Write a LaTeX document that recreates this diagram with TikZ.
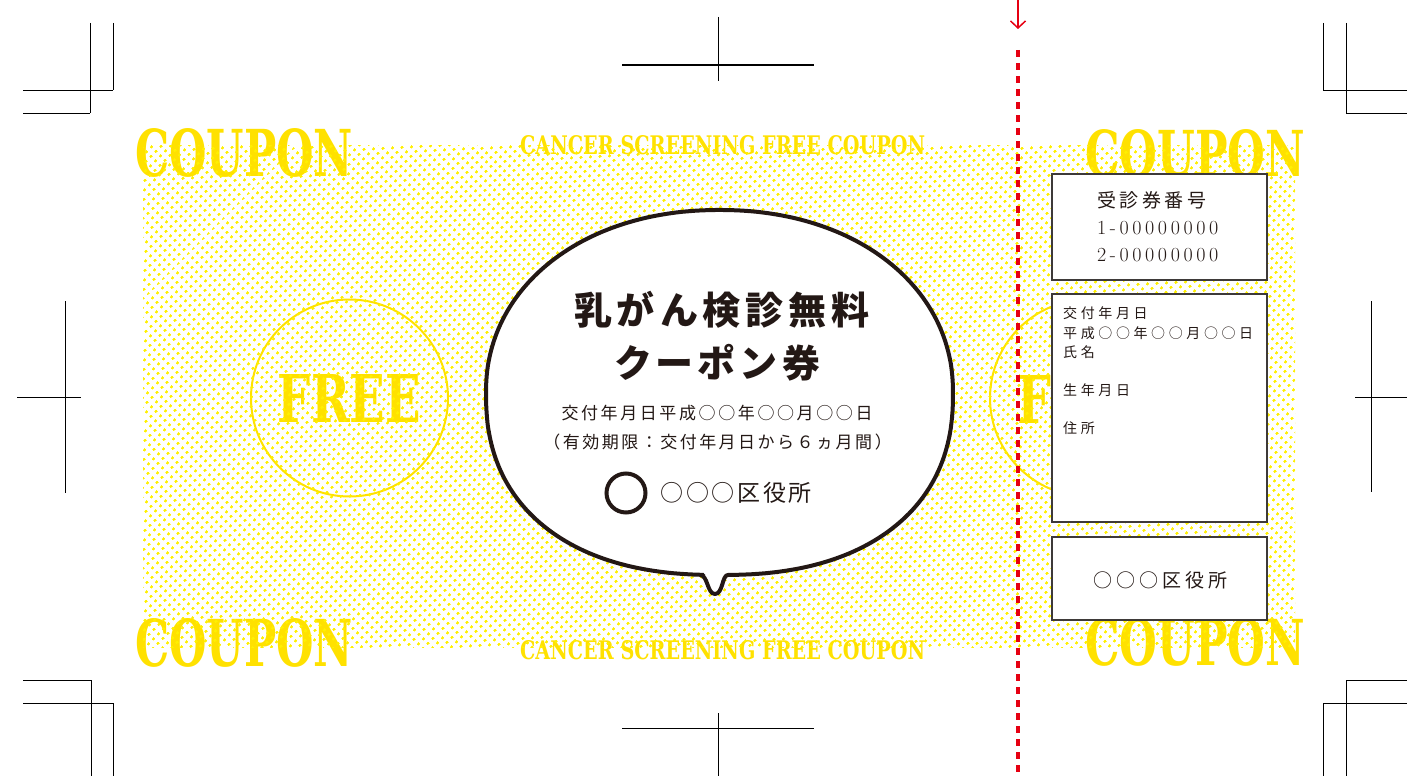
\documentclass[tikz,border=0pt]{standalone}
\usepackage{fontspec}
\usetikzlibrary{positioning, arrows.meta, patterns.meta}
\newfontfamily\cjk{Noto Sans CJK JP}
\newfontfamily\slab{DejaVu Serif}

\definecolor{dotyellow}{HTML}{FFF000}
\definecolor{couponyellow}{HTML}{FFE100}
\definecolor{inkblack}{HTML}{231815}
\definecolor{boxgray}{HTML}{3E3A39}
\definecolor{cutred}{HTML}{E60012}

\makeatletter
\newcommand\spread[2]{\def\spreadgap{#1}\@tfor\spreadchar:=#2\do{\spreadchar\hspace{\spreadgap}}\unskip}
\makeatother

\tikzstyle{coupontext} = [inner sep=0pt, text=couponyellow]
\tikzstyle{freering} = [circle, draw=couponyellow, line width=2pt, inner sep=0pt, minimum size=197pt, text=couponyellow]
\tikzstyle{bubble} = [draw=inkblack, fill=white, line width=4pt, line join=round]
\tikzstyle{bubbletext} = [inner sep=0pt, text=inkblack]
\tikzstyle{infobox} = [rectangle, draw=boxgray, fill=white, line width=2pt, minimum width=215pt, inner sep=0pt]
\tikzstyle{boxtext} = [inner sep=0pt, text=inkblack, anchor=west]
\tikzstyle{cutline} = [cutred, line width=3.5pt, dash pattern=on 7pt off 6pt]
\tikzstyle{cutarrow} = [cutred, line width=1.5pt, -{Straight Barb[length=7pt, width=15pt]}]
\tikzstyle{cropmark} = [black, line width=1pt]

\begin{document}
\begin{tikzpicture}[x=1pt, y=-1pt]
    \useasboundingbox (0,0) rectangle (1407,776);

    % Crop marks
    \draw[cropmark] (23,90) -- (113,90) (23,113) -- (90,113) (90,23) -- (90,113) (113,23) -- (113,90);
    \draw[cropmark] (1323,90) -- (1407,90) (1346,113) -- (1407,113) (1323,23) -- (1323,90) (1346,23) -- (1346,113);
    \draw[cropmark] (23,680) -- (91,680) (23,703) -- (113,703) (91,680) -- (91,776) (113,703) -- (113,776);
    \draw[cropmark] (1346,680) -- (1407,680) (1323,703) -- (1407,703) (1346,680) -- (1346,776) (1323,703) -- (1323,776);
    \draw[cropmark] (622,65) -- (814,65) (718,17) -- (718,81);
    \draw[cropmark] (622,728) -- (814,728) (718,713) -- (718,776);
    \draw[cropmark] (65,301) -- (65,493) (17,397) -- (81,397);
    \draw[cropmark] (1371,301) -- (1371,492) (1355,397) -- (1407,397);

    % Yellow titles
    \node (coupontl) [coupontext, anchor=north west] at (135,128) {\resizebox{218pt}{48pt}{\slab\bfseries COUPON}};
    \node (couponbl) [coupontext, anchor=north west] at (135,618) {\resizebox{218pt}{48pt}{\slab\bfseries COUPON}};
    \node (coupontr) [coupontext, anchor=north west] at (1085,129) {\resizebox{220pt}{47pt}{\slab\bfseries COUPON}};
    \node (couponbr) [coupontext, anchor=north west] at (1085,618) {\resizebox{220pt}{47pt}{\slab\bfseries COUPON}};
    \node (slogantop) [coupontext, anchor=north west] at (520,135) {\resizebox{405pt}{19pt}{\slab\bfseries CANCER SCREENING FREE COUPON}};
    \node (sloganbot) [coupontext, anchor=north west] at (520,640) {\resizebox{405pt}{19pt}{\slab\bfseries CANCER SCREENING FREE COUPON}};
    \node (freeleft) [freering] at (349.5,398) {\resizebox{143pt}{48pt}{\slab\bfseries FREE}};
    \node (freeright) [freering] at (1088.5,398) {};
    \node (freeletter) [coupontext, anchor=north west] at (1017,375) {\resizebox{34pt}{48pt}{\slab\bfseries F}};

    % Dots
    \fill[pattern={Dots[radius=1.6pt, distance=6.4pt, angle=45]}, pattern color=dotyellow] (143,145) rectangle (1295,647);

    % Speech bubble
    \draw[bubble] plot[domain=92.57:448.81, samples=241, variable=\t]
        ({719.5+233.5*sign(cos(\t))*abs(cos(\t))^(ifthenelse(sin(\t)<0,0.95,0.86))},
         {392.5+182.5*sign(sin(\t))*abs(sin(\t))^(ifthenelse(sin(\t)<0,0.95,0.86))})
        .. controls (722,575) and (723,594) .. (715,594)
        .. controls (707,594) and (708,575) .. (700,575) -- cycle;

    % Nodes
    \node (title) [bubbletext, font=\cjk\bfseries\fontsize{38pt}{38pt}\selectfont] at (722,310) {\spread{5pt}{乳がん検診無料}};
    \node (ticket) [bubbletext, font=\cjk\bfseries\fontsize{38pt}{38pt}\selectfont] at (717,363) {\spread{4pt}{クーポン券}};
    \node (issued) [bubbletext, font=\cjk\fontsize{17pt}{17pt}\selectfont] at (717,413) {\spread{2.6pt}{交付年月日平成○○年○○月○○日}};
    \node (validity) [bubbletext, font=\cjk\fontsize{17pt}{17pt}\selectfont] at (717.5,442) {\spread{2.5pt}{（有効期限：交付年月日から６ヵ月間）}};
    \node (stamp) [circle, draw=inkblack, line width=4pt, minimum size=39pt, inner sep=0pt] at (626,493) {};
    \node (office) [bubbletext, font=\cjk\fontsize{23pt}{23pt}\selectfont, right=13pt of stamp] {\spread{2.6pt}{○○○区役所}};

    % Stub boxes
    \node (numbox) [infobox, minimum height=106pt] at (1159.5,227) {};
    \node (infobox) [infobox, minimum height=228pt] at (1159.5,408) {};
    \node (officebox) [infobox, minimum height=83pt] at (1159.5,578.5) {};

    \node (numlabel) [boxtext, font=\cjk\fontsize{19pt}{19pt}\selectfont] at (1097,200) {\spread{3.5pt}{受診券番号}};
    \node (numone) [boxtext, font=\fontsize{20pt}{20pt}\selectfont] at (1097,228) {\spread{3.6pt}{1-00000000}};
    \node (numtwo) [boxtext, font=\fontsize{20pt}{20pt}\selectfont] at (1097,255) {\spread{3.6pt}{2-00000000}};

    \node (issuedlabel) [boxtext, font=\cjk\fontsize{14pt}{14pt}\selectfont] at (1063,313) {\spread{3.6pt}{交付年月日}};
    \node (issueddate) [boxtext, font=\cjk\fontsize{14pt}{14pt}\selectfont] at (1063,333) {\spread{3.6pt}{平成○○年○○月○○日}};
    \node (namelabel) [boxtext, font=\cjk\fontsize{14pt}{14pt}\selectfont] at (1063,352) {\spread{3.6pt}{氏名}};
    \node (birthlabel) [boxtext, font=\cjk\fontsize{14pt}{14pt}\selectfont] at (1063,390) {\spread{3.6pt}{生年月日}};
    \node (addrlabel) [boxtext, font=\cjk\fontsize{14pt}{14pt}\selectfont] at (1063,428) {\spread{3.6pt}{住所}};

    \node (stuboffice) [bubbletext, font=\cjk\fontsize{19pt}{19pt}\selectfont] at (1160,580) {\spread{4pt}{○○○区役所}};

    % Cut line
    \coordinate (arrowtop) at (1018,0);
    \coordinate (arrowtip) at (1018,29);
    \coordinate (cuttop) at (1018,50);
    \coordinate (cutbot) at (1018,776);
    \draw[cutarrow] (arrowtop) -- (arrowtip);
    \draw[cutline] (cuttop) -- (cutbot);

\end{tikzpicture}
\end{document}
